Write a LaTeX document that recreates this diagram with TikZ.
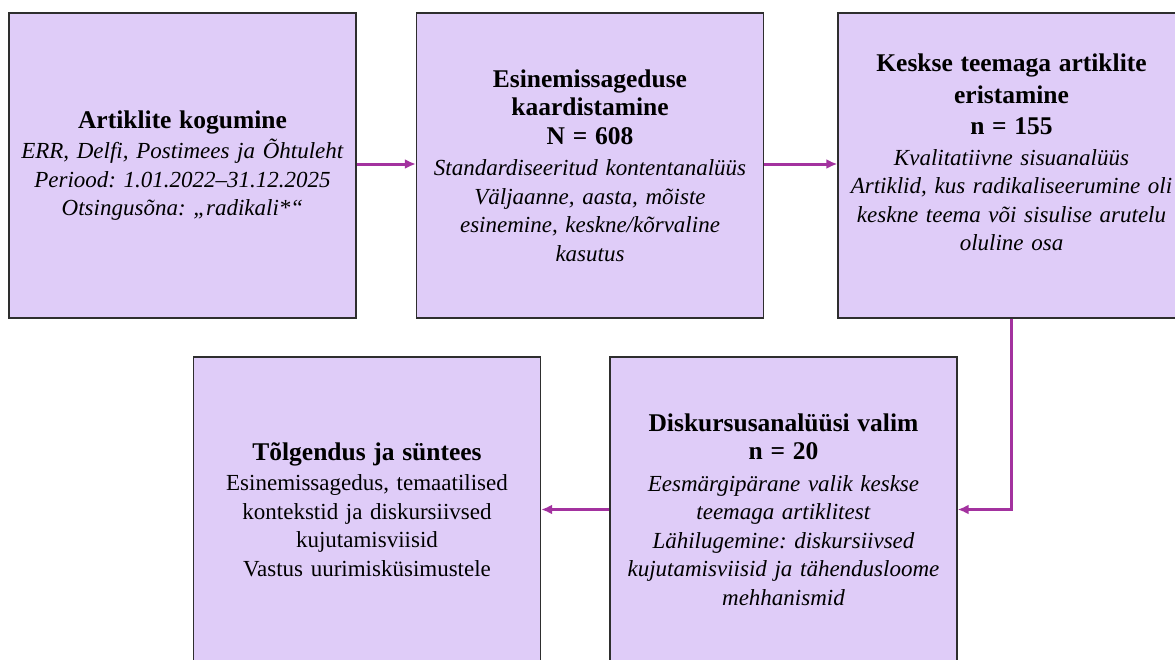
\documentclass[tikz,border=0pt]{standalone}
\usepackage{fontspec}
\setmainfont{Liberation Serif}
\usetikzlibrary{arrows.meta}
\definecolor{boxfill}{HTML}{DFCCF8}
\definecolor{boxline}{HTML}{2E2E2E}
\definecolor{arrowcol}{HTML}{A3329F}
\newcommand{\hd}[1]{{\fontsize{25.5}{31}\selectfont\bfseries #1}}
\begin{document}
\begin{tikzpicture}[x=1pt,y=-1pt,
  stagebox/.style={draw=boxline,line width=1.3pt,fill=boxfill,minimum width=347pt,minimum height=305pt,
    inner sep=0pt,align=center,font=\fontsize{23}{28.5}\selectfont\frenchspacing,text width=345pt},
  flow/.style={draw=arrowcol,line width=3pt,-{Latex[length=11pt,width=10pt]}}]
\useasboundingbox (0,0) rectangle (1175,659);
\begin{scope}
\clip (0,0) rectangle (1175,659);
\node[stagebox] (b1) at (182.5,165.5) {\hd{Artiklite kogumine}\\[2pt] \textit{ERR, Delfi, Postimees ja Õhtuleht}\\ \textit{Periood: 1.01.2022–31.12.2025}\\ \textit{Otsingusõna: „radikali*“}};
\node[stagebox] (b2) at (590,165.5) {\hd{Esinemissageduse}\\ \hd{kaardistamine}\\ \hd{N = 608}\\[3pt] \textit{Standardiseeritud kontentanalüüs}\\ \textit{Väljaanne, aasta, mõiste}\\ \textit{esinemine, keskne/kõrvaline}\\ \textit{kasutus}};
\node[stagebox] (b3) at (1011.5,165.5) {\hd{Keskse teemaga artiklite}\\[3pt] \hd{eristamine}\\[3pt] \hd{n = 155}\\[2pt] \textit{Kvalitatiivne sisuanalüüs}\\ \textit{Artiklid, kus radikaliseerumine oli}\\ \textit{keskne teema või sisulise arutelu}\\ \textit{oluline osa}\\[-2pt] \mbox{}};
\node[stagebox] (b5) at (783.5,509.5) {\hd{Diskursusanalüüsi valim}\\ \hd{n = 20}\\[3pt] \textit{Eesmärgipärane valik keskse}\\ \textit{teemaga artiklitest}\\ \textit{Lähilugemine: diskursiivsed}\\ \textit{kujutamisviisid ja tähendusloome}\\ \textit{mehhanismid}};
\node[stagebox] (b4) at (367,509.5) {\hd{Tõlgendus ja süntees}\\[2pt] Esinemissagedus, temaatilised\\ kontekstid ja diskursiivsed\\ kujutamisviisid\\ Vastus uurimisküsimustele};
\end{scope}
\draw[flow] (b1.east |- 0,164) -- (b2.west |- 0,164);
\draw[flow] (b2.east |- 0,164) -- (b3.west |- 0,164);
\draw[flow] (b3.south -| 1011,0) |- (b5.east);
\draw[flow] (b5.west) -- (b4.east);
\end{tikzpicture}
\end{document}
